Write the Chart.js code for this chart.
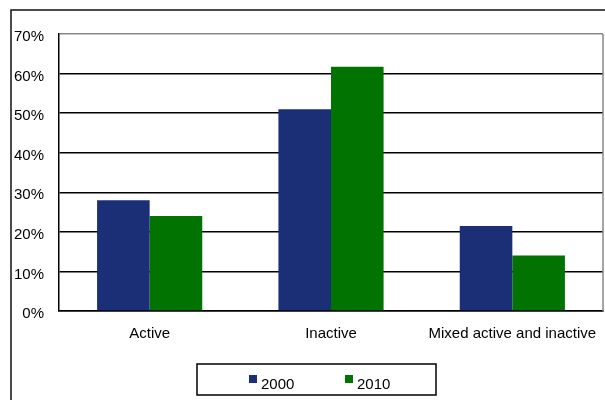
<!DOCTYPE html>
<html>
<head>
<meta charset="utf-8">
<script src="https://cdn.jsdelivr.net/npm/chart.js@4/dist/chart.umd.min.js"></script>
<style>
  html, body { margin: 0; padding: 0; background: #fff; }
  #wrap { width: 605px; height: 400px; position: relative; }
</style>
</head>
<body>
<div id="wrap"><canvas id="chart" width="605" height="400"></canvas></div>
<script>
const categories = ['Active', 'Inactive', 'Mixed active and inactive'];
const seriesNames = ['2000', '2010'];
const values2000 = [28, 51, 21.5];
const values2010 = [24, 61.7, 14];
const yTicks = [0, 10, 20, 30, 40, 50, 60, 70];

const colors = ['#1b2f77', '#007300'];
const font = { family: '"Liberation Sans", Arial, sans-serif', size: 15 };

// outer frame, right plot border and the boxed legend
const framePlugin = {
    id: 'frame',
    afterDraw(chart) {
        const ctx = chart.ctx;
        const area = chart.chartArea;
        ctx.save();
        ctx.strokeStyle = '#111';
        ctx.lineWidth = 1.5;
        ctx.beginPath();
        ctx.moveTo(11, 400);
        ctx.lineTo(11, 10);
        ctx.lineTo(605, 10);
        ctx.stroke();

        ctx.strokeStyle = '#888';
        ctx.lineWidth = 1.5;
        ctx.beginPath();
        ctx.moveTo(area.right, area.top);
        ctx.lineTo(area.right, area.bottom);
        ctx.stroke();

        // legend
        ctx.strokeStyle = '#000';
        ctx.lineWidth = 1.5;
        ctx.strokeRect(197, 364, 239, 31);
        ctx.font = font.size + 'px ' + font.family;
        ctx.textBaseline = 'alphabetic';
        const xs = [249, 345];
        chart.data.datasets.forEach((ds, i) => {
            ctx.fillStyle = ds.backgroundColor;
            ctx.fillRect(xs[i], 375, 8, 8);
            ctx.fillStyle = '#000';
            ctx.fillText(ds.label, xs[i] + 12, 389);
        });
        ctx.restore();
    }
};

new Chart(document.getElementById('chart'), {
    type: 'bar',
    data: {
        labels: categories,
        datasets: [{
            label: seriesNames[0],
            data: values2000,
            backgroundColor: colors[0],
            categoryPercentage: 0.58,
            barPercentage: 1
        }, {
            label: seriesNames[1],
            data: values2010,
            backgroundColor: colors[1],
            categoryPercentage: 0.58,
            barPercentage: 1
        }]
    },
    options: {
        responsive: false,
        animation: false,
        layout: { padding: { left: 0, top: 34, right: 2, bottom: 0 } },
        plugins: {
            legend: { display: false },
            tooltip: { enabled: false }
        },
        scales: {
            x: {
                afterFit: s => { s.height = 89; s.paddingLeft = 0; s.paddingRight = 0; },
                grid: { display: false, drawTicks: false },
                border: { color: '#000', width: 1.5 },
                ticks: { color: '#000', font: font, padding: 14, maxRotation: 0 }
            },
            y: {
                min: 0,
                max: 70,
                afterFit: s => { s.width = 59; s.paddingTop = 0; s.paddingBottom = 0; },
                afterBuildTicks: s => { s.ticks = yTicks.map(v => ({ value: v })); },
                grid: {
                    drawTicks: false,
                    tickLength: 0,
                    color: c => (c.tick && c.tick.value === 70 ? '#888' : '#000'),
                    lineWidth: 1.5
                },
                border: { color: '#000', width: 1.5 },
                ticks: { color: '#000', font: font, padding: 15, labelOffset: 3, callback: v => v + '%' }
            }
        }
    },
    plugins: [framePlugin]
});
</script>
</body>
</html>
